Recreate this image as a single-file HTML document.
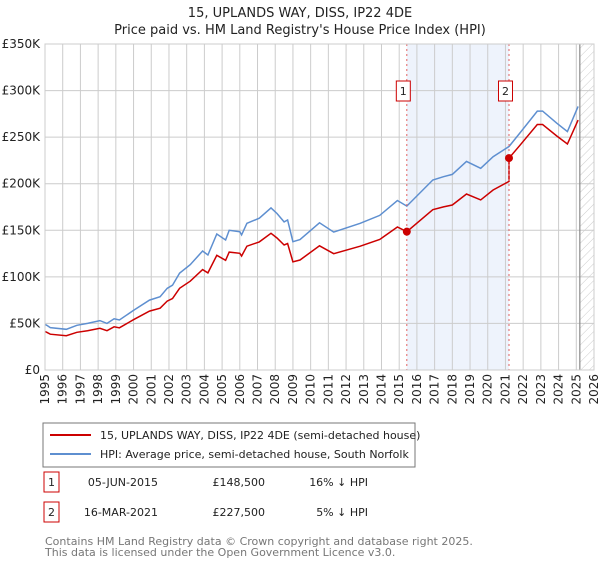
<!DOCTYPE html>
<html><head><meta charset="utf-8"><style>
body{margin:0;background:#fff;font-family:"Liberation Sans","DejaVu Sans",sans-serif}
svg text{font-family:"DejaVu Sans","Liberation Sans",sans-serif}
</style></head><body>
<svg id="chart" width="600" height="560" viewBox="0 0 600 560" xmlns="http://www.w3.org/2000/svg">
<defs><pattern id="hatch" patternUnits="userSpaceOnUse" width="6" height="6" patternTransform="rotate(45)"><line x1="0" y1="0" x2="0" y2="6" stroke="#ccc" stroke-width="1"/></pattern></defs>
<text x="300" y="17" text-anchor="middle" font-size="13" fill="#222">15, UPLANDS WAY, DISS, IP22 4DE</text>
<text x="300" y="34" text-anchor="middle" font-size="13" fill="#222">Price paid vs. HM Land Registry's House Price Index (HPI)</text>
<g id="grid"></g><g id="series"></g><g id="marks"></g>
<g>
<rect x="43" y="423" width="372" height="44" fill="#fff" stroke="#777"/>
<line x1="50" y1="435" x2="91" y2="435" stroke="#cc0000" stroke-width="2"/>
<text x="100" y="439" font-size="11" fill="#222">15, UPLANDS WAY, DISS, IP22 4DE (semi-detached house)</text>
<line x1="50" y1="454" x2="91" y2="454" stroke="#5e8fd0" stroke-width="2"/>
<text x="100" y="458" font-size="11" fill="#222">HPI: Average price, semi-detached house, South Norfolk</text>
</g>
<g font-size="11" fill="#222">
<rect x="44" y="472" width="15" height="20" fill="#fff" stroke="#cc0000"/><text x="51.5" y="486" text-anchor="middle">1</text>
<text x="158" y="486" text-anchor="end">05-JUN-2015</text><text x="265" y="486" text-anchor="end">£148,500</text><text x="368" y="486" text-anchor="end">16% ↓ HPI</text>
<rect x="44" y="502" width="15" height="20" fill="#fff" stroke="#cc0000"/><text x="51.5" y="516" text-anchor="middle">2</text>
<text x="158" y="516" text-anchor="end">16-MAR-2021</text><text x="265" y="516" text-anchor="end">£227,500</text><text x="368" y="516" text-anchor="end">5% ↓ HPI</text>
</g>
<text x="45" y="545" font-size="11" fill="#777">Contains HM Land Registry data © Crown copyright and database right 2025.</text>
<text x="45" y="556" font-size="11" fill="#777">This data is licensed under the Open Government Licence v3.0.</text>
</svg>
<script>
const hpiYears=[1995.0,1995.1,1995.3,1996.2,1996.8,1997.4,1998.1,1998.5,1998.9,1999.2,2000.0,2000.9,2001.5,2001.9,2002.2,2002.6,2003.2,2003.9,2004.2,2004.7,2005.2,2005.4,2006.0,2006.1,2006.4,2007.1,2007.76,2008.1,2008.5,2008.7,2009.0,2009.4,2010.5,2011.3,2012.8,2013.9,2014.9,2015.43,2016.9,2017.5,2018.0,2018.8,2019.6,2020.3,2021.2,2021.8,2022.8,2023.1,2023.9,2024.5,2025.1];
const hpiValues=[49,48,45.5,43.7,48,50,53,50,55,53.7,64,75,78.7,87.7,91,104,113,127.8,123.5,146,139.6,150,148.5,145,157.5,163,174,168,159,161,137.7,140,158,148,157.5,166,182,176,204,207.5,210,224,216.5,229,240,254,278,278,265,256,283];
const saleYears=[2015.43,2021.2];
const salePrices=[148.5,227.5];
const saleLabels=["1","2"];
const yTicks=[0,50,100,150,200,250,300,350];
const yTickLabels=["£0","£50K","£100K","£150K","£200K","£250K","£300K","£350K"];
const xTicks=[1995,1996,1997,1998,1999,2000,2001,2002,2003,2004,2005,2006,2007,2008,2009,2010,2011,2012,2013,2014,2015,2016,2017,2018,2019,2020,2021,2022,2023,2024,2025,2026];
const dataEnd=2025.2;
const NS="http://www.w3.org/2000/svg";
const X=y=>45+(y-1995)*(549/31);
const Y=v=>370-v*(326/350);
function mk(tag,attrs,parent){const e=document.createElementNS(NS,tag);for(const k in attrs)e.setAttribute(k,attrs[k]);parent.appendChild(e);return e;}
const grid=document.getElementById('grid'),ser=document.getElementById('series'),marks=document.getElementById('marks');
let band=mk('rect',{x:X(saleYears[0]),y:44,width:X(saleYears[1])-X(saleYears[0]),height:326,fill:'#eef3fc'},grid);


let hat=mk('rect',{x:X(dataEnd),y:44,width:X(2026)-X(dataEnd),height:326,fill:'url(#hatch)'},grid);


yTicks.forEach((v,i)=>{
 let l=mk('line',{x1:45,x2:594,y1:Y(v),y2:Y(v),stroke:'#ccc'},grid);
 
 
 let t=mk('text',{x:40,y:Y(v)+4,'text-anchor':'end','font-size':12,fill:'#222'},grid);t.textContent=yTickLabels[i];
 
 
});
xTicks.forEach(yr=>{
 let l=mk('line',{x1:X(yr),x2:X(yr),y1:44,y2:370,stroke:'#ccc'},grid);
 
 
 let t=mk('text',{transform:`translate(${X(yr)+4},374) rotate(-90)`,'text-anchor':'end','font-size':12,fill:'#222'},grid);t.textContent=yr;
 
 
});
let dl=mk('line',{x1:X(dataEnd),x2:X(dataEnd),y1:44,y2:370,stroke:'#888','stroke-width':1.2},grid);


function hpiAt(t){for(let i=1;i<hpiYears.length;i++){if(t<=hpiYears[i]){const a=hpiYears[i-1],b=hpiYears[i];return hpiValues[i-1]+(hpiValues[i]-hpiValues[i-1])*(t-a)/(b-a);}}return hpiValues[hpiValues.length-1];}
let hp=hpiYears.map((y,i)=>X(y).toFixed(1)+','+Y(hpiValues[i]).toFixed(1)).join(' ');
let hl=mk('polyline',{points:hp,fill:'none',stroke:'#5e8fd0','stroke-width':1.5},ser);


function red(t){let k=0;if(t>=saleYears[1])k=1;const s=(k===0&&t<saleYears[0])?0:k;return salePrices[s]*hpiAt(t)/hpiAt(saleYears[s]);}
let pts=[];hpiYears.forEach(y=>{if(y<saleYears[1]||y>saleYears[1])pts.push([y,red(y)]);});
pts.push([saleYears[1]-0.001,red(saleYears[1]-0.001)]);pts.push([saleYears[1],salePrices[1]]);
pts.sort((a,b)=>a[0]-b[0]);
let rl=mk('polyline',{points:pts.map(p=>X(p[0]).toFixed(1)+','+Y(p[1]).toFixed(1)).join(' '),fill:'none',stroke:'#cc0000','stroke-width':1.5},ser);


saleYears.forEach((yr,i)=>{
 let v=mk('line',{x1:X(yr),x2:X(yr),y1:44,y2:370,stroke:'#e06060','stroke-dasharray':'2,3'},marks);
 
 
 let d=mk('circle',{cx:X(yr),cy:Y(salePrices[i]),r:4,fill:'#cc0000'},marks);
 
 
 let b=mk('rect',{x:X(yr)-10.5,y:81,width:14,height:20,fill:'#fff',stroke:'#cc0000'},marks);
 
 
 let t=mk('text',{x:X(yr)-3.5,y:95,'text-anchor':'middle','font-size':11,fill:'#222'},marks);t.textContent=saleLabels[i];
 
 
});
let fr=mk('rect',{x:45,y:44,width:549,height:326,fill:'none',stroke:'#ccc'},marks);


</script>
</body></html>
